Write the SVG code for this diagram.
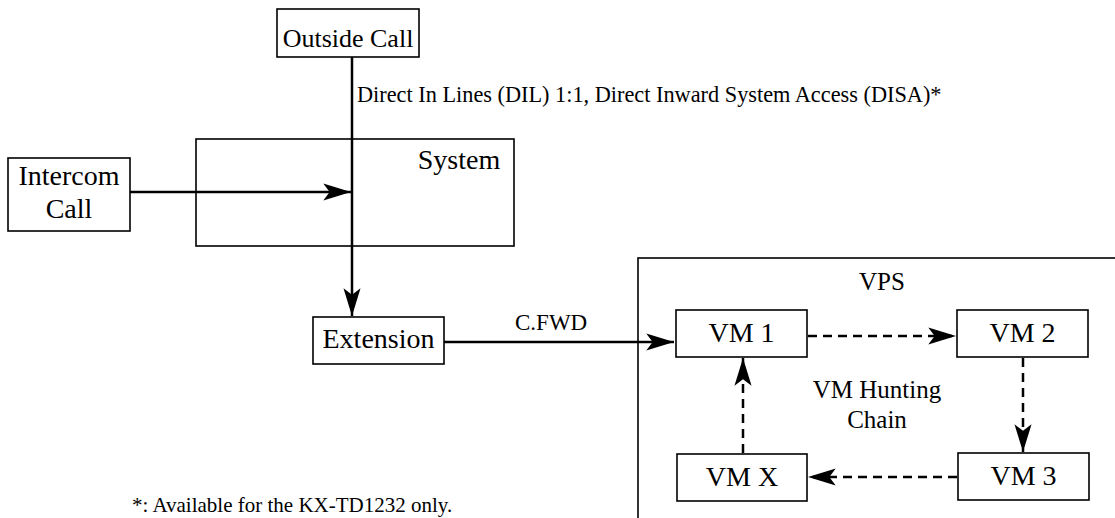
<svg xmlns="http://www.w3.org/2000/svg" width="1115" height="518" viewBox="0 0 1115 518">
<style>
.box{fill:#fff;stroke:#000;stroke-width:1.6}
.t{font-family:"Liberation Serif","Times New Roman",serif;fill:#000}
.ln{stroke:#000;stroke-width:2.5;fill:none}
.dash{stroke:#000;stroke-width:2.5;fill:none;stroke-dasharray:9 6}
</style>
<defs>
<marker id="ah" markerUnits="userSpaceOnUse" markerWidth="32" markerHeight="22" viewBox="-28 -9 30 18" refX="0" refY="0" orient="auto">
<path d="M0,0 L-26,-8 L-20,0 L-26,8 Z" fill="#000"/>
</marker>
</defs>
<rect width="1115" height="518" fill="#fff"/>
<g id="system">
<rect class="box" x="196" y="139" width="318" height="107"/>
<text class="t" x="459" y="169" font-size="28" text-anchor="middle">System</text>
</g>
<g id="vps">
<rect class="box" x="638" y="258" width="500" height="300"/>
<text class="t" x="882" y="290" font-size="25" text-anchor="middle">VPS</text>
<text class="t" x="877" y="398" font-size="25" text-anchor="middle">VM Hunting</text>
<text class="t" x="877" y="428" font-size="25" text-anchor="middle">Chain</text>
</g>
<g id="connectors">
<line class="ln" x1="352" y1="57" x2="352" y2="316" marker-end="url(#ah)"/>
<line class="ln" x1="130" y1="192" x2="351" y2="192" marker-end="url(#ah)"/>
<line class="ln" x1="444" y1="342" x2="674" y2="342" marker-end="url(#ah)"/>
<line class="dash" x1="808" y1="336" x2="956" y2="336" marker-end="url(#ah)"/>
<line class="dash" x1="1023" y1="358" x2="1023" y2="452" marker-end="url(#ah)"/>
<line class="dash" x1="957" y1="477" x2="808" y2="477" marker-end="url(#ah)"/>
<line class="dash" x1="743" y1="453" x2="743" y2="358" marker-end="url(#ah)"/>
<text class="t" x="357" y="102" font-size="22.3">Direct In Lines (DIL) 1:1, Direct Inward System Access (DISA)*</text>
<text class="t" x="515" y="330" font-size="23">C.FWD</text>
</g>
<g id="outside-call">
<rect class="box" x="277" y="9" width="142" height="48"/>
<text class="t" x="348" y="47" font-size="26" text-anchor="middle">Outside Call</text>
</g>
<g id="intercom-call">
<rect class="box" x="8" y="158" width="122" height="73"/>
<text class="t" x="69" y="185" font-size="28" text-anchor="middle">Intercom</text>
<text class="t" x="69" y="218" font-size="28" text-anchor="middle">Call</text>
</g>
<g id="extension">
<rect class="box" x="313" y="317" width="131" height="47"/>
<text class="t" x="378.5" y="348" font-size="28" text-anchor="middle">Extension</text>
</g>
<g id="vm1">
<rect class="box" x="676" y="310" width="131" height="47"/>
<text class="t" x="741.5" y="342" font-size="28" text-anchor="middle">VM 1</text>
</g>
<g id="vm2">
<rect class="box" x="957" y="310" width="131" height="47"/>
<text class="t" x="1022.5" y="342" font-size="28" text-anchor="middle">VM 2</text>
</g>
<g id="vm3">
<rect class="box" x="958" y="453" width="131" height="47"/>
<text class="t" x="1023.5" y="485" font-size="28" text-anchor="middle">VM 3</text>
</g>
<g id="vmx">
<rect class="box" x="677" y="454" width="130" height="47"/>
<text class="t" x="742" y="486" font-size="28" text-anchor="middle">VM X</text>
</g>
<g id="footnote">
<text class="t" x="132" y="512" font-size="21">*: Available for the KX-TD1232 only.</text>
</g>
</svg>
